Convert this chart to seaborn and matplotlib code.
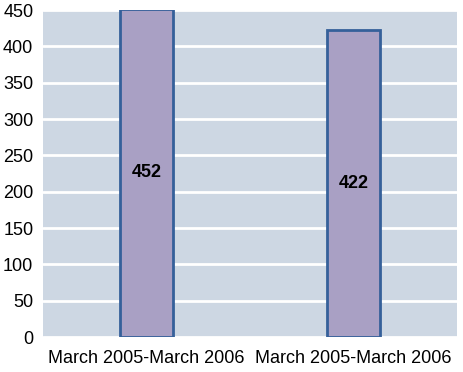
import matplotlib
matplotlib.use("Agg")
import matplotlib.pyplot as plt
import seaborn as sns
import pandas as pd

periods = ["March 2005-March 2006", "March 2005-March 2006"]
values = [452, 422]
bar_ids = ["bar1", "bar2"]

sns.set_theme(style="white")
plt.rcParams['font.family'] = ['Liberation Sans', 'DejaVu Sans']

df = pd.DataFrame({"id": bar_ids, "value": values})

fig = plt.figure(figsize=(4.63, 3.72), dpi=100)
ax = fig.add_axes([0.093, 0.094, 0.894, 0.879])
ax.set_facecolor("#CDD7E3")

sns.barplot(data=df, x="id", y="value", order=bar_ids, width=0.26,
            color="#A9A0C4", edgecolor="#35609A", linewidth=2, saturation=1,
            ax=ax, zorder=3)

ax.set_ylim(0, 450)
ax.set_yticks(range(0, 451, 50))
ax.yaxis.grid(True, color="white", linewidth=2, zorder=0)
ax.set_axisbelow(True)
ax.set_xticks(range(len(periods)))
ax.set_xticklabels(periods)
ax.set_xlabel("")
ax.set_ylabel("")
for s in ax.spines.values():
    s.set_visible(False)
ax.tick_params(axis="both", length=0, labelsize=13, colors="black")
ax.tick_params(axis="x", pad=9)
ax.tick_params(axis="y", pad=7)

for i, v in enumerate(values):
    ax.text(i, v / 2, str(v), ha="center", va="center", fontsize=13,
            fontweight="bold", color="black", zorder=5)

fig.savefig("out.png", dpi=100)
